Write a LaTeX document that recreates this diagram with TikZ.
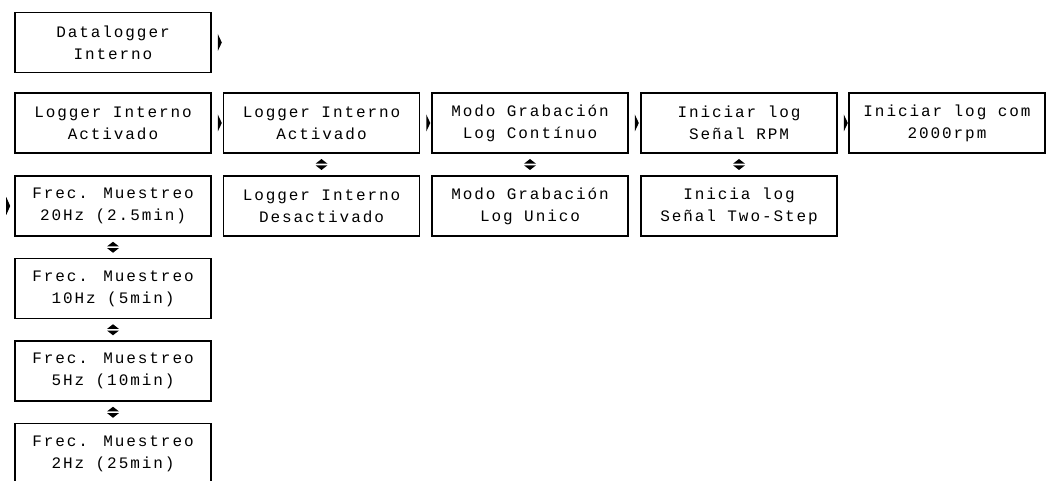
\documentclass[tikz,border=0pt]{standalone}
\usepackage{fontspec}
\usetikzlibrary{calc}
\newfontfamily\lcdfont[LetterSpace=12]{Liberation Mono}
\tikzset{
    lcd/.style={draw, line width=1.6pt, minimum width=196pt, minimum height=60pt,
        inner sep=0pt, align=center, font=\lcdfont\fontsize{16}{22}\selectfont},
    nxt/.style={fill=black},
}
\begin{document}
\begin{tikzpicture}[x=1pt, y=-1pt]
        \useasboundingbox (0,0) rectangle (1046,481);
        \clip (0,0) rectangle (1046,481);
        \node[lcd] (dl) at (113, 42.5) {Datalogger\\Interno};
        % first row
        \foreach \n/\x/\lab in {r1/113/Logger Interno\\Activado, r2/321.5/Logger Interno\\Activado,
                r3/530/Modo Grabación\\Log Contínuo, r4/739/Iniciar log\\Señal RPM,
                r5/947/Iniciar log com\\2000rpm}{
            \node[lcd] (\n) at (\x, 123) {\lab};
        }
        % second row
        \node[lcd] (d2) at (321.5, 206) {Logger Interno\\Desactivado};
        \node[lcd] (d3) at (530, 206) {Modo Grabación\\Log Unico};
        \node[lcd] (d4) at (739, 206) {Inicia log\\Señal Two-Step};
        % sample rates
        \foreach \n/\y/\lab in {f20/206/20Hz (2.5min), f10/288.5/10Hz (5min),
                f5/371/5Hz (10min), f2/453.5/2Hz (25min)}{
            \node[lcd] (\n) at (113, \y) {Frec. Muestreo\\\lab};
        }
        % next arrows
        \foreach \a in {dl, r1, r2, r3, r4}{
            \fill[nxt, shift={(\a.east)}] (6,-8.5) -- (10,0) -- (6,8.5) -- cycle;
        }
        \fill[nxt, shift={(f20.west)}] (-8,-9) -- (-4,0) -- (-8,9) -- cycle;
        % up/down arrows
        \foreach \a/\b in {r2/d2, r3/d3, r4/d4, f20/f10, f10/f5, f5/f2}{
            \fill[nxt, shift={($(\a.south)!0.5!(\b.north)$)}] (-6,-0.8) -- (0,-5.5) -- (6,-0.8) -- cycle;
            \fill[nxt, shift={($(\a.south)!0.5!(\b.north)$)}] (-6,0.8) -- (0,5.5) -- (6,0.8) -- cycle;
        }
    \end{tikzpicture}
\end{document}
